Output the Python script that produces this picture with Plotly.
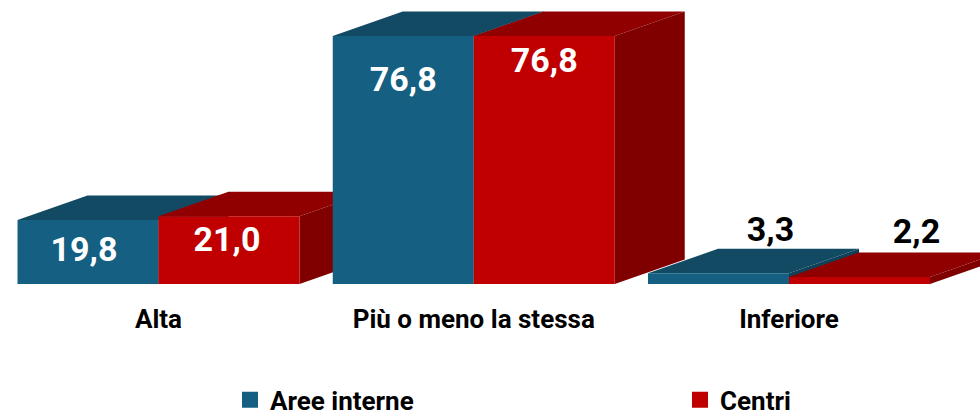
import plotly.graph_objects as go

categories = ["Alta", "Più o meno la stessa", "Inferiore"]
aree_interne = [19.8, 76.8, 3.3]
centri = [21.0, 76.8, 2.2]
label_aree = ["19,8", "76,8", "3,3"]
label_centri = ["21,0", "76,8", "2,2"]

# layout constants (pixels of the 980x416 page)
W, H = 980, 416
BASE_PX = 284
PX_PER_VALUE = 248 / 76.8
GROUP_PX = 315.25
BAR_PX = 141
FIRST_CENTER_PX = 158.5
DEPTH_X_PX, DEPTH_Y_PX = 70, 24.5

# label offsets in pixels from the top centre of the front face
aree_label_dx = [-4, 0, 52]
aree_label_dy = [32, 46, -41]
centri_label_dx = [-2, 0, 57]
centri_label_dy = [26, 27, -42]

BLUE, BLUE_TOP, BLUE_SIDE = "#156082", "#124a63", "#0f4158"
RED, RED_TOP, RED_SIDE = "#c00000", "#900000", "#800000"

dx_u = DEPTH_X_PX / GROUP_PX
dy_u = DEPTH_Y_PX / PX_PER_VALUE
bar_u = BAR_PX / GROUP_PX


def poly(xs, ys, color):
    return go.Scatter(x=xs, y=ys, mode="lines", fill="toself", fillcolor=color,
                      line=dict(width=0, color=color), hoverinfo="skip", showlegend=False)


fig = go.Figure()
for g in range(len(categories)):
    for values, sign, front, top, side in (
        (aree_interne, -1, BLUE, BLUE_TOP, BLUE_SIDE),
        (centri, 0, RED, RED_TOP, RED_SIDE),
    ):
        v = values[g]
        x0 = g + sign * bar_u
        x1 = x0 + bar_u
        fig.add_trace(poly([x0, x0 + dx_u, x1 + dx_u, x1], [v, v + dy_u, v + dy_u, v], top))
        fig.add_trace(poly([x1, x1 + dx_u, x1 + dx_u, x1], [v, v + dy_u, dy_u, 0], side))
        fig.add_trace(poly([x0, x1, x1, x0], [0, 0, v, v], front))


def label_trace(values, texts, sign, dxs, dys, colors):
    return go.Scatter(
        x=[g + (sign + 0.5) * bar_u + dxs[g] / GROUP_PX for g in range(len(values))],
        y=[values[g] - dys[g] / PX_PER_VALUE for g in range(len(values))],
        text=texts, mode="text", textposition="middle center",
        textfont=dict(family="Roboto", size=34, color=colors, weight="bold"),
        hoverinfo="skip", showlegend=False, cliponaxis=False)


fig.add_trace(label_trace(aree_interne, label_aree, -1, aree_label_dx, aree_label_dy, ["white", "white", "black"]))
fig.add_trace(label_trace(centri, label_centri, 0, centri_label_dx, centri_label_dy, ["white", "white", "black"]))

for name, color, lg in (("Aree interne", BLUE, "legend"), ("Centri", RED, "legend2")):
    fig.add_trace(go.Scatter(x=[None], y=[None], mode="markers", name=name, legend=lg,
                             marker=dict(symbol="square", size=16, color=color)))

legend_style = dict(orientation="h", xanchor="left", y=-0.325, yanchor="top", itemclick=False,
                    font=dict(family="Roboto", size=26, weight="bold"),
                    bgcolor="rgba(0,0,0,0)", tracegroupgap=0, itemwidth=30)

fig.update_layout(
    width=W, height=H, margin=dict(l=0, r=0, t=0, b=H - BASE_PX, autoexpand=False),
    paper_bgcolor="white", plot_bgcolor="white", showlegend=True,
    font=dict(family="Roboto", color="black"),
    legend=dict(x=230 / W, **legend_style),
    legend2=dict(x=680 / W, **legend_style),
)
fig.update_xaxes(range=[-FIRST_CENTER_PX / GROUP_PX, (W - FIRST_CENTER_PX) / GROUP_PX],
                 tickmode="array", tickvals=list(range(len(categories))), ticktext=categories,
                 showgrid=False, zeroline=False, showline=False, automargin=False,
                 ticks="outside", ticklen=12, tickcolor="rgba(0,0,0,0)",
                 tickfont=dict(family="Roboto", size=26, weight="bold", color="black"))
fig.update_yaxes(range=[0, BASE_PX / PX_PER_VALUE], visible=False)
fig.write_html("out.html", config=dict(displayModeBar=False),
               post_script="document.body.style.margin='0';")
